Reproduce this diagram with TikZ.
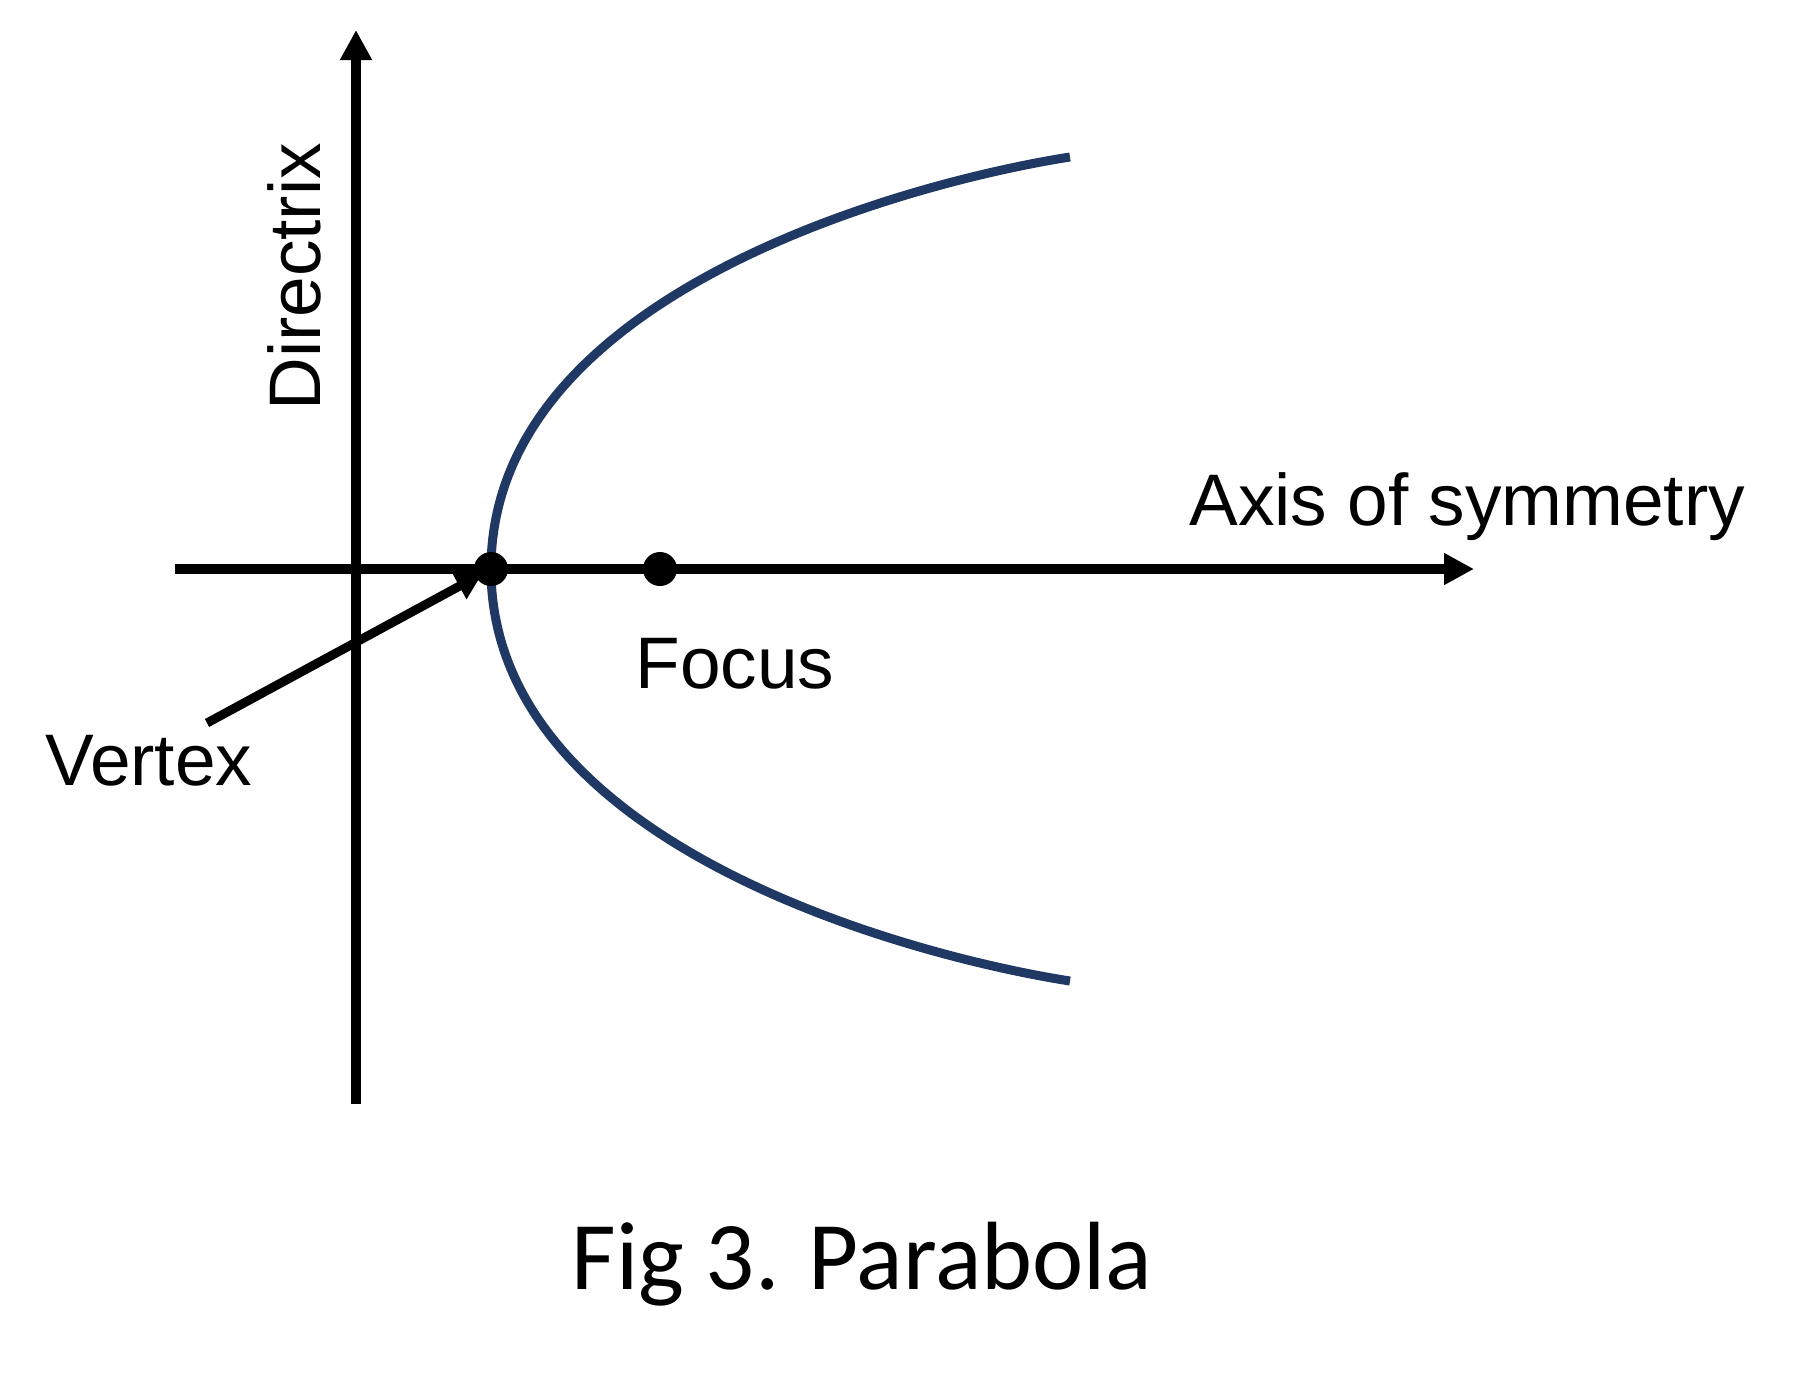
\documentclass[tikz,border=0pt]{standalone}
\usepackage{fontspec}
\setmainfont{Liberation Sans}
\newfontfamily\capfont{Carlito}
\usetikzlibrary{arrows.meta}
\definecolor{navy}{HTML}{203864}
\tikzset{
  axisline/.style={line width=5pt, -{Triangle[length=15pt,width=15pt]}},
  pointer/.style={line width=4.5pt, -{Triangle[length=13pt,width=14pt]}},
  curve/.style={line width=4.5pt, draw=navy},
  dot/.style={circle, fill=black, inner sep=0pt, minimum size=17pt},
  lbl/.style={inner sep=0pt, font=\fontsize{36.5}{40}\selectfont},
  caption/.style={inner sep=0pt, font=\capfont\fontsize{48.5}{52}\selectfont}
}
\begin{document}
\begin{tikzpicture}[x=0.5pt,y=-0.5pt]
\useasboundingbox (0,0) rectangle (1793,1378);
% axes
\coordinate (hl) at (175,569);
\coordinate (hr) at (1474,569);
\coordinate (vb) at (356,1104);
\coordinate (vt) at (356,30);
\draw[axisline] (hl) -- (hr);
\draw[axisline] (vb) -- (vt);
% parabola
\coordinate (ptop) at (1070,157);
\coordinate (pbot) at (1070,981);
\draw[curve] (ptop) .. controls (922,180) and (491,289) .. (491,569)
  .. controls (491,849) and (922,958) .. (pbot);
% points
\node[dot] (v) at (491,569) {};
\node[dot] (f) at (660,569) {};
% labels
\node[lbl, anchor=base west] (axislbl) at (1189,525) {Axis of symmetry};
\node[lbl, anchor=base west, rotate=90] (dirlbl) at (320,411) {Directrix};
\node[lbl, anchor=base west] (focuslbl) at (635,688) {Focus};
\node[lbl, anchor=base west] (vertexlbl) at (45,785) {Vertex};
\node[caption, anchor=base] (cap) at (862,1289) {Fig 3. Parabola};
% vertex pointer
\coordinate (vs) at (207,723);
\draw[pointer, shorten >=5pt] (vs) -- (v.center);
\end{tikzpicture}
\end{document}
